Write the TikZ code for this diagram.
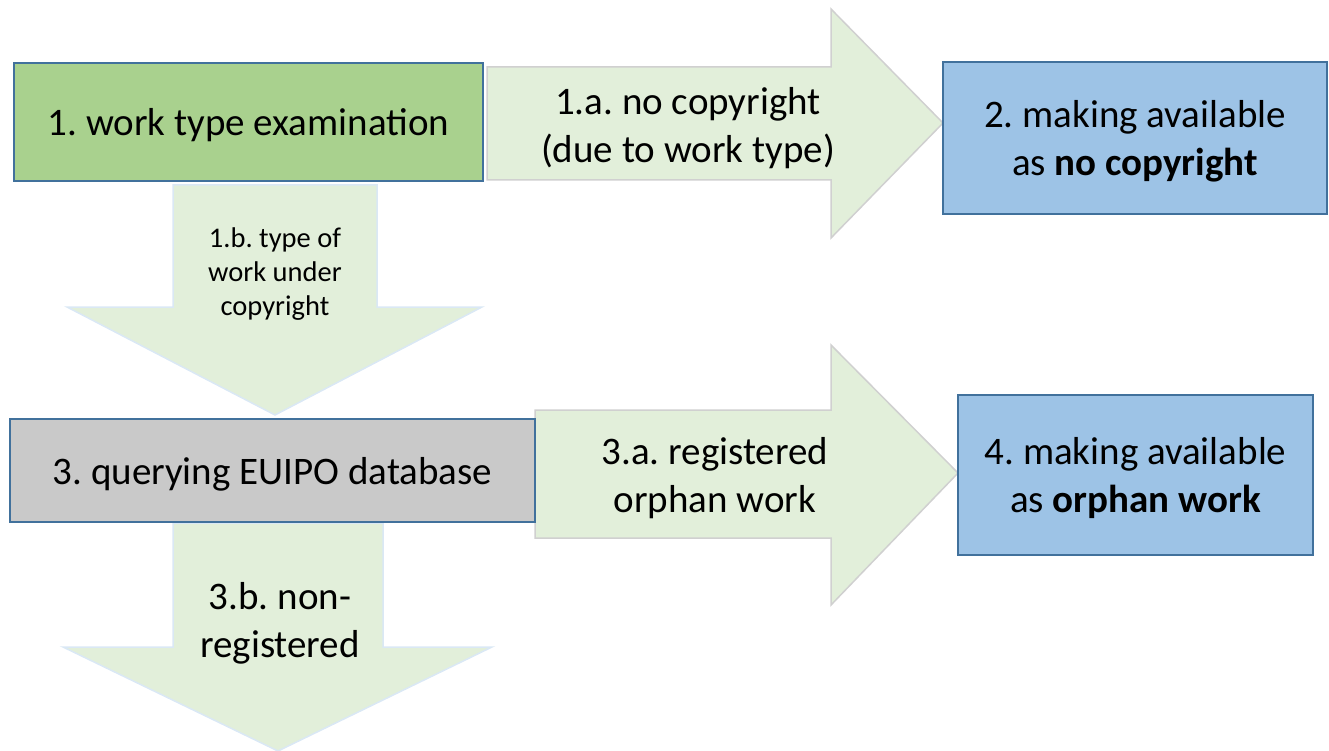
\documentclass[tikz,border=0pt]{standalone}
\usepackage{fontspec}
\setmainfont{Carlito}
\usepackage{xcolor}
\usepackage{tikz}
\usetikzlibrary{positioning}

\definecolor{boxline}{HTML}{41719C}
\definecolor{greenbox}{HTML}{A9D18E}
\definecolor{bluebox}{HTML}{9DC3E6}
\definecolor{graybox}{HTML}{C9C9C9}
\definecolor{arrowfill}{HTML}{E2EFDA}
\definecolor{arrowline}{HTML}{D0D0D0}
\definecolor{arrowblue}{HTML}{DAE8F5}

\begin{document}
\frenchspacing
\begin{tikzpicture}[
        x=1pt, y=-1pt,
        every node/.style={align=center, inner sep=0, outer sep=0, text depth=0pt},
        big/.style={font=\fontsize{39}{47.5}\selectfont},
        small/.style={font=\fontsize{28.5}{34}\selectfont},
        box/.style={draw=boxline, line width=2pt, big},
        examine/.style={box, fill=greenbox},
        avail/.style={box, fill=bluebox},
        query/.style={box, fill=graybox},
        rarrow/.style={fill=arrowfill, draw=arrowline, line width=1.5pt},
        darrow/.style={fill=arrowfill, draw=arrowblue, line width=1.5pt},
    ]
        \useasboundingbox (0,0) rectangle (1329,751);

        % block arrows
        \path [rarrow] (487,67) -- (831,67) -- (831,9) -- (943,123) -- (831,238) -- (831,180) -- (487,180) -- cycle;
        \path [darrow] (173,185) -- (377,185) -- (377,307) -- (482,307) -- (275,415) -- (67,307) -- (173,307) -- cycle;
        \path [rarrow] (535,410) -- (831,410) -- (831,345) -- (958,473) -- (831,605) -- (831,538) -- (535,538) -- cycle;
        \path [darrow] (173,523) -- (383,523) -- (383,647) -- (492,647) -- (278,751) -- (63,647) -- (173,647) -- cycle;

        % steps
        \node [examine, minimum width=469pt, minimum height=118pt] (work) at (248.5,122) {1. work type examination};
        \node [avail, minimum width=384pt, minimum height=152pt] (nocopy) at (1135,138) {2. making available\\as \textbf{no copyright}};
        \node [query, minimum width=525pt, minimum height=103pt] (euipo) at (272.5,470.5) {3. querying EUIPO database};
        \node [avail, minimum width=355pt, minimum height=160pt] (orphan) at (1135.5,475) {4. making available\\as \textbf{orphan work}};

        % arrow labels
        \node [big] (lbl1a) at (688,125) {1.a. no copyright\\(due to work type)};
        \node [small] (lbl1b) at (275,272) {1.b. type of\\work under\\copyright};
        \node [big] (lbl3a) at (715,475) {3.a. registered\\orphan work};
        \node [big] (lbl3b) at (280,620) {3.b. non-\\registered};
    \end{tikzpicture}
\end{document}
